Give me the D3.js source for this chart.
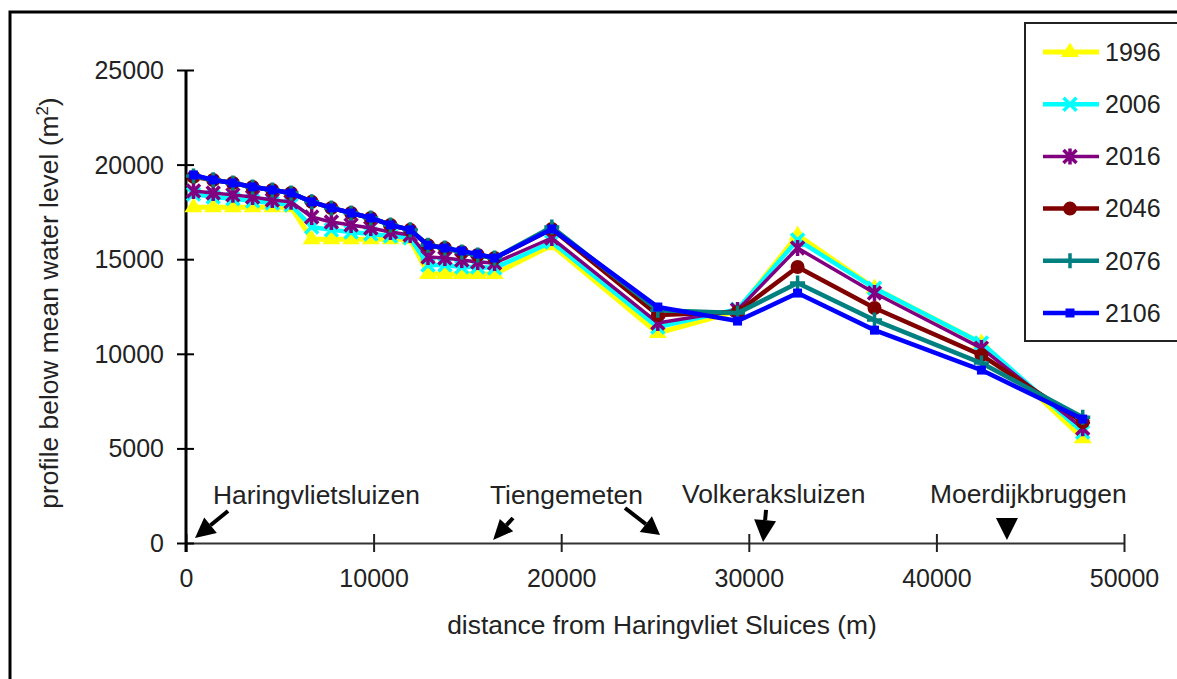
<!DOCTYPE html>
<meta charset="utf-8">
<style>
body { margin: 0; background: #fff; }
svg { display: block; background: #fff; font-family: "Liberation Sans", Arial, sans-serif; }
.axis text, .legend text { font-size: 25px; fill: #222; }
.label { font-size: 26.4px; fill: #222; }
</style>
<body>
<div id="chart"></div>
<script src="https://d3js.org/d3.v7.min.js"></script>
<script>

// distance from the sluices (m) for every profile
var distance = [400, 1450, 2500, 3550, 4600, 5600, 6700, 7750, 8800, 9850, 10900, 11950,
  12900, 13800, 14700, 15550, 16450, 19500, 25150, 29400, 32600, 36700, 42400, 47800];

var y1996 = [17750, 17750, 17750, 17750, 17750, 17750, 16060, 16060, 16060, 16060, 16060, 16060,
  14220, 14220, 14220, 14220, 14220, 15740, 11100, 12260, 16270, 13470, 10570, 5540];
var y2006 = [18440, 18290, 18190, 18080, 17970, 17870, 16700, 16550, 16440, 16330, 16230, 16120,
  14690, 14690, 14590, 14590, 14530, 15910, 11410, 12360, 16020, 13470, 10570, 5860];
var y2016 = [18600, 18500, 18400, 18290, 18130, 18030, 17230, 16970, 16810, 16650, 16440, 16280,
  15120, 15060, 14960, 14850, 14800, 16120, 11630, 12310, 15590, 13210, 10300, 6070];
var y2046 = [19350, 19190, 19030, 18820, 18660, 18500, 18030, 17710, 17440, 17180, 16810, 16550,
  15740, 15590, 15380, 15220, 15060, 16600, 12050, 12210, 14590, 12420, 9930, 6390];
var y2076 = [19400, 19200, 19030, 18820, 18660, 18500, 18030, 17710, 17440, 17180, 16810, 16550,
  15740, 15590, 15380, 15220, 15060, 16700, 12300, 12150, 13740, 11780, 9510, 6650];
var y2106 = [19450, 19190, 19030, 18820, 18660, 18500, 18030, 17710, 17440, 17180, 16810, 16550,
  15740, 15590, 15430, 15270, 15060, 16600, 12470, 11730, 13210, 11250, 9140, 6550];

var years = ["1996", "2006", "2016", "2046", "2076", "2106"];
var xTicks = [0, 10000, 20000, 30000, 40000, 50000];
var yTicks = [0, 5000, 10000, 15000, 20000, 25000];

// places along the river (label start and arrow, in chart units)
var places = ["Haringvlietsluizen", "Tiengemeten", "Volkeraksluizen", "Moerdijkbruggen"];
var placeX = [1440, 16200, 26440, 39660];
var placeY = [2050, 2050, 2120, 2120];
var arrowTailX = [2240, 17430, 23400, 30920, 43760];
var arrowTailY = [1690, 1320, 1850, 1750, 1320];
var arrowTipX = [480, 16370, 25270, 30760, 43760];
var arrowTipY = [270, 160, 420, 50, 160];

var colors = ["#ffff00", "#00ffff", "#800080", "#800000", "#008080", "#0000ff"];
var widths = [5, 4.5, 3.5, 4.5, 4.5, 4.5];
var markers = ["triangle", "x", "asterisk", "circle", "plus", "square"];

var W = 1177, H = 679;
var svg = d3.select("#chart").append("svg").attr("width", W).attr("height", H);

// outer frame
svg.append("rect").attr("x", 10).attr("y", 12).attr("width", 1300).attr("height", 800)
  .attr("fill", "none").attr("stroke", "#000").attr("stroke-width", 3);

var x = d3.scaleLinear().domain([0, 50000]).range([186, 1124]);
var y = d3.scaleLinear().domain([0, 25000]).range([543, 70]);

// axes
var gx = svg.append("g").attr("class", "axis").attr("transform", "translate(0," + y(0) + ")")
  .call(d3.axisBottom(x).tickValues(xTicks).tickFormat(d3.format("d")).tickSizeOuter(0));
gx.select(".domain").attr("stroke", "#333").attr("stroke-width", 2);
gx.selectAll(".tick line").attr("y1", -9).attr("y2", 9).attr("stroke", "#222").attr("stroke-width", 2);
gx.selectAll(".tick text").attr("y", 44).attr("dy", 0);

var gy = svg.append("g").attr("class", "axis").attr("transform", "translate(" + x(0) + ",0)")
  .call(d3.axisLeft(y).tickValues(yTicks).tickFormat(d3.format("d")).tickSizeOuter(0));
gy.select(".domain").attr("stroke", "#000").attr("stroke-width", 3)
  .attr("d", "M0," + y(25000) + "V" + (y(0) + 9));
gy.selectAll(".tick line").attr("x1", -9).attr("x2", 8).attr("stroke", "#000").attr("stroke-width", 2);
gy.selectAll(".tick text").attr("x", -22).attr("dy", "0.34em");

// axis titles
svg.append("text").attr("class", "label").attr("x", 662).attr("y", 634)
  .attr("text-anchor", "middle").text("distance from Haringvliet Sluices (m)");
var yt = svg.append("text").attr("class", "label").attr("text-anchor", "middle")
  .attr("transform", "translate(58,303) rotate(-90)");
yt.append("tspan").text("profile below mean water level (m");
yt.append("tspan").attr("font-size", "17px").attr("dy", "-10").text("2");
yt.append("tspan").attr("dy", "10").text(")");

function markerPath(kind) {
  if (kind === "triangle") return "M0,-9.5L9,5L-9,5Z";
  if (kind === "x") return "M-6.5,-6.5L6.5,6.5M-6.5,6.5L6.5,-6.5";
  if (kind === "asterisk") return "M-6.5,-6.5L6.5,6.5M-6.5,6.5L6.5,-6.5M0,-8L0,8";
  if (kind === "plus") return "M-7.5,0L7.5,0M0,-7.5L0,7.5";
  if (kind === "square") return "M-4.5,-4.5h9v9h-9Z";
  return d3.symbol().type(d3.symbolCircle).size(154)();
}
function drawMarker(sel, i) {
  var filled = ["triangle", "circle", "square"].indexOf(markers[i]) >= 0;
  sel.attr("d", markerPath(markers[i]))
    .attr("fill", filled ? colors[i] : "none")
    .attr("stroke", filled ? "none" : colors[i])
    .attr("stroke-width", 3.5);
}

// series
var allSeries = [y1996, y2006, y2016, y2046, y2076, y2106];
var line = d3.line().x(function(d) { return x(d[0]); }).y(function(d) { return y(d[1]); });

allSeries.forEach(function(vals, i) {
  var pts = distance.map(function(d, j) { return [d, vals[j]]; });
  var g = svg.append("g");
  g.append("path").datum(pts).attr("d", line).attr("fill", "none")
    .attr("stroke", colors[i]).attr("stroke-width", widths[i]).attr("stroke-linejoin", "round");
  g.selectAll("path.m").data(pts).enter().append("path").attr("class", "m")
    .attr("transform", function(d) { return "translate(" + x(d[0]) + "," + y(d[1]) + ")"; })
    .call(drawMarker, i);
});

// place names and arrows
places.forEach(function(p, i) {
  svg.append("text").attr("class", "label").attr("x", x(placeX[i])).attr("y", y(placeY[i])).text(p);
});
var headLen = [20, 20, 18, 22, 22], headW = [20, 18, 20, 22, 22];
arrowTipX.forEach(function(tx, i) {
  var x1 = x(arrowTailX[i]), y1 = y(arrowTailY[i]), x2 = x(tx), y2 = y(arrowTipY[i]);
  var dx = x2 - x1, dy = y2 - y1, len = Math.sqrt(dx * dx + dy * dy);
  var ux = dx / len, uy = dy / len;
  var bx = x2 - ux * headLen[i], by = y2 - uy * headLen[i];
  if (len > headLen[i] + 1) {
    svg.append("line").attr("x1", x1).attr("y1", y1).attr("x2", bx).attr("y2", by)
      .attr("stroke", "#000").attr("stroke-width", 4);
  }
  var hw = headW[i] / 2;
  svg.append("path")
    .attr("d", "M" + x2 + "," + y2 + "L" + (bx - uy * hw) + "," + (by + ux * hw) +
      "L" + (bx + uy * hw) + "," + (by - ux * hw) + "Z")
    .attr("fill", "#000");
});

// legend
var legend = svg.append("g").attr("class", "legend");
legend.append("rect").attr("x", 1025).attr("y", 23).attr("width", 300).attr("height", 318)
  .attr("fill", "#fff").attr("stroke", "#222").attr("stroke-width", 2);
years.forEach(function(yr, i) {
  var ry = 52 + i * 52.2;
  var row = legend.append("g").attr("transform", "translate(0," + ry + ")");
  row.append("line").attr("x1", 1043).attr("x2", 1099).attr("y1", 0).attr("y2", 0)
    .attr("stroke", colors[i]).attr("stroke-width", widths[i]);
  row.append("path").attr("transform", "translate(1070,0)").call(drawMarker, i);
  row.append("text").attr("x", 1105).attr("dy", "0.35em").text(yr);
});

</script>
